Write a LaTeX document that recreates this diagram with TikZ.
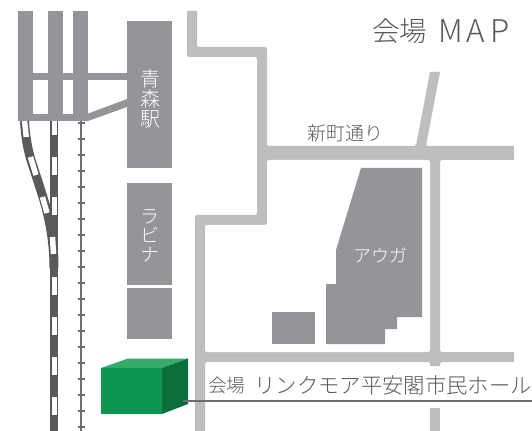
\documentclass[tikz,border=0pt]{standalone}
\usepackage{fontspec}
\newfontfamily\jpl{Noto Sans CJK JP Light}
\definecolor{bldg}{HTML}{939598}
\definecolor{road}{HTML}{BCBEC0}
\definecolor{rail}{HTML}{58595B}
\definecolor{ladder}{HTML}{6D6E71}
\definecolor{txt}{HTML}{58595B}
\definecolor{gfront}{HTML}{0F9552}
\definecolor{gtop}{HTML}{35AC6A}
\definecolor{gside}{HTML}{0A6E3A}
\tikzset{
  bldgfill/.style={fill=bldg,draw=none},
  roadfill/.style={fill=road,draw=none},
  maplabel/.style={inner sep=0pt,text=txt,font=\jpl},
  whitelabel/.style={inner sep=0pt,text=white,align=center},
  sleeper/.style={white,line width=4.1pt},
  tick/.style={ladder,line width=1pt},
}
\begin{document}
\begin{tikzpicture}[x=0.75pt,y=-0.75pt]
\useasboundingbox (0,0) rectangle (532,431);
% roads
\fill[roadfill,rounded corners=1.5pt] (187,11)--(197,11)--(197,47)--(267,47)--(267,146)--(416,146)--(430,72)--(440,72)--(426,146)--(514,146)--(514,160)--(440,160)--(440,352)--(514,352)--(514,362)--(440,362)--(440,366)--(430,366)--(430,362)--(205,362)--(205,431)--(195,431)--(195,215)--(257,215)--(257,57)--(187,57)--cycle;
\fill[white,rounded corners=1.5pt] (267,160)--(430,160)--(430,352)--(205,352)--(205,225)--(267,225)--cycle;
\fill[road] (187,11) rectangle (197,15);
\fill[road] (195,427) rectangle (205,431);
\fill[road] (510,146) rectangle (514,160);
\fill[road] (510,352) rectangle (514,362);
\fill[road] (430,72)--(440,72)--(439.2,76)--(429.2,76)--cycle;
\fill[road] (430,360) rectangle (440,366);
\fill[road] (430,408) rectangle (440,431);
% station block
\fill[bldgfill] (18,11) rectangle (33,121);
\fill[bldgfill] (48,11) rectangle (63,121);
\fill[bldgfill] (73,11) rectangle (88,121);
\fill[bldgfill] (18,73) rectangle (127,80);
\fill[bldgfill] (18,114) rectangle (88,121);
\fill[bldgfill] (87,114)--(127,99)--(127,107)--(88,121)--cycle;
\fill[bldgfill] (127,21) rectangle (172,168);
\fill[bldgfill] (127,183) rectangle (172,285);
\fill[bldgfill] (127,288) rectangle (172,339);
\fill[bldgfill] (361,168)--(422,168)--(422,317)--(397,317)--(397,329)--(385,329)--(385,344)--(326,344)--(326,284)--(336,284)--(336,250)--cycle;
\fill[bldgfill] (272,312) rectangle (315,344);
% branch rail
\draw[rail,line width=6.75pt] (24.5,121) .. controls (25.5,138) and (28,150) .. (31,160) -- (42.3,195) .. controls (49,216) and (54,240) .. (54,268);
% main rail
\fill[rail] (50,121) rectangle (58,431);
\foreach \yy in {121,157,197,277,317,357,397}{
  \pgfmathsetmacro\yb{\yy==121 ? 135 : \yy+18}
  \draw[sleeper] (54.5,\yy) -- (54.5,\yb);
}
% branch sleepers
\draw[sleeper] (24.5,121) -- (26.3,137);
\draw[sleeper] (30.5,157) -- (36,175);
\draw[sleeper] (42.5,197) -- (47,213);
\draw[sleeper] (52.5,237) -- (53.5,254);
% ladder track
\draw[ladder,line width=1.9pt] (81,121) -- (81,431);
\foreach \yy in {123,139,...,427}{ \draw[tick] (78,\yy) -- (85,\yy); }
% venue
\fill[gfront] (101,368) rectangle (162,414);
\fill[gtop] (101,368)--(128,358.5)--(188,358.5)--(162,368)--cycle;
\fill[gside] (162,368)--(188,358.5)--(188,404)--(162,414)--cycle;
\coordinate (lineA) at (183,401);
\coordinate (lineB) at (532,401);
\draw[ladder,line width=1pt] (lineA) -- (lineB);
% labels
\node[maplabel,anchor=west] (title) at (372,31) {\fontsize{20.6}{24}\selectfont 会場};
\node[maplabel,anchor=west] (map) at (438,31) {\fontsize{23.5}{26}\selectfont M\kern2.5pt A\kern4.5pt P};
\node[maplabel,anchor=center] (street) at (345,133) {\fontsize{14.25}{18}\selectfont 新町通り};
\node[whitelabel,font=\jpl\fontsize{15}{15}\selectfont] (aomori) at (150,98.5) {青\\森\\駅};
\node[whitelabel,font=\jpl\fontsize{14.25}{14.25}\selectfont] (rabina) at (150,235.5) {ラ\\ビ\\ナ};
\node[whitelabel,font=\jpl\fontsize{13.5}{16}\selectfont] (auga) at (380,255) {アウガ};
\node[maplabel,anchor=west] (hallA) at (208,385) {\fontsize{14}{18}\selectfont 会場};
\node[maplabel,anchor=east] (hallB) at (532,385) {\fontsize{16}{18}\selectfont リンクモア平安閣市民ホール};
\end{tikzpicture}
\end{document}
